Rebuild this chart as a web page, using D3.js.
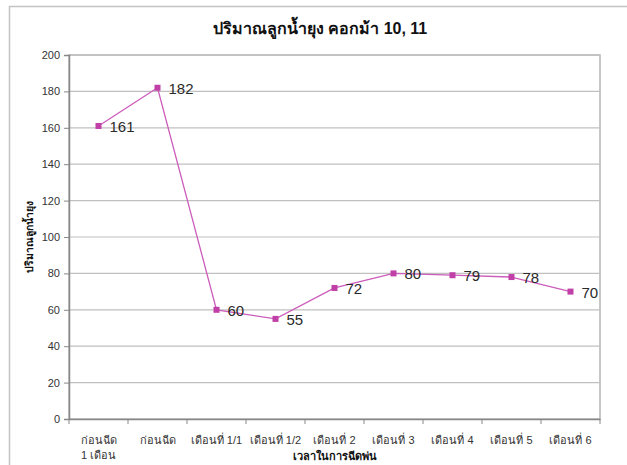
<!DOCTYPE html>
<html>
<head>
<meta charset="utf-8">
<script src="https://cdn.jsdelivr.net/npm/d3@7"></script>
<style>
  html, body { margin: 0; padding: 0; background: #fff; }
  svg { display: block; font-family: "Liberation Sans", Arial, "DejaVu Sans", sans-serif; }
</style>
</head>
<body>
<svg id="chart" width="627" height="465"></svg>
<script>
// Mosquito larvae count, stable pens 10 and 11
const categories = ["ก่อนฉีด\n1 เดือน", "ก่อนฉีด", "เดือนที่ 1/1", "เดือนที่ 1/2", "เดือนที่ 2", "เดือนที่ 3", "เดือนที่ 4", "เดือนที่ 5", "เดือนที่ 6"];
const larvae = [161, 182, 60, 55, 72, 80, 79, 78, 70];
const yTicks = [0, 20, 40, 60, 80, 100, 120, 140, 160, 180, 200];
const title = "ปริมาณลูกน้ำยุง คอกม้า 10, 11";
const yTitle = "ปริมาณลูกน้ำยุง";
const xTitle = "เวลาในการฉีดพ่น";

const svg = d3.select("#chart");
const plot = { left: 69, right: 600, top: 55, bottom: 419 };

// outer chart frame
svg.append("rect")
  .attr("x", 9.5).attr("y", 6.5).attr("width", 640).attr("height", 480)
  .attr("fill", "none").attr("stroke", "#c4c4c4").attr("stroke-width", 1.5);

const x = d3.scaleBand().domain(categories).range([plot.left, plot.right]).padding(0);
const y = d3.scaleLinear().domain([0, 200]).range([plot.bottom, plot.top]);

// plot area border
svg.append("rect")
  .attr("x", plot.left).attr("y", plot.top)
  .attr("width", plot.right - plot.left).attr("height", plot.bottom - plot.top)
  .attr("fill", "none").attr("stroke", "#b4b4b4").attr("stroke-width", 1.5);

// horizontal gridlines
svg.append("g").selectAll("line").data(yTicks.filter(d => d > 0)).join("line")
  .attr("x1", plot.left).attr("x2", plot.right)
  .attr("y1", d => y(d)).attr("y2", d => y(d))
  .attr("stroke", "#c0c0c0").attr("stroke-width", 1.2);

// y axis
const yAxis = svg.append("g").attr("transform", `translate(${plot.left},0)`)
  .call(d3.axisLeft(y).tickValues(yTicks).tickSize(5).tickPadding(4));
yAxis.select(".domain").attr("stroke", "#888").attr("stroke-width", 1.5);
yAxis.selectAll(".tick line").attr("stroke", "#888");
yAxis.selectAll(".tick text").attr("fill", "#333").style("font-size", "11px");

// x axis with ticks on category boundaries
const xAxis = svg.append("g").attr("transform", `translate(0,${plot.bottom})`)
  .call(d3.axisBottom(x).tickSize(0).tickFormat(""));
xAxis.select(".domain").attr("stroke", "#888").attr("stroke-width", 1.5);
xAxis.selectAll(".tick line").remove();
const bounds = categories.map(c => x(c)).concat([plot.right]);
xAxis.selectAll("line.bound").data(bounds).join("line").attr("class", "bound")
  .attr("x1", d => d).attr("x2", d => d).attr("y1", 0).attr("y2", 5)
  .attr("stroke", "#888");
xAxis.selectAll("text.cat").data(categories).join("text").attr("class", "cat")
  .attr("x", d => x(d) + x.bandwidth() / 2)
  .attr("y", 25)
  .attr("text-anchor", "middle")
  .attr("fill", "#333")
  .style("font-size", "11px")
  .each(function(d) {
    const lines = d.split("\n");
    d3.select(this).selectAll("tspan").data(lines).join("tspan")
      .attr("x", x(d) + x.bandwidth() / 2)
      .attr("dy", (l, i) => i === 0 ? 0 : 15)
      .text(l => l);
  });

// line and markers
const cx = (d, i) => x(categories[i]) + x.bandwidth() / 2;
svg.append("path").datum(larvae)
  .attr("fill", "none").attr("stroke", "#cc5cbb").attr("stroke-width", 1.3)
  .attr("d", d3.line().x(cx).y(d => y(d)));
svg.append("g").selectAll("rect").data(larvae).join("rect")
  .attr("x", (d, i) => cx(d, i) - 3).attr("y", d => y(d) - 3)
  .attr("width", 6).attr("height", 6).attr("fill", "#c040a8");

// value labels
svg.append("g").selectAll("text").data(larvae).join("text")
  .attr("x", (d, i) => cx(d, i) + 11)
  .attr("y", d => y(d) + 6)
  .attr("fill", "#2a2a2a")
  .style("font-size", "15px")
  .text(d => d);

// titles
svg.append("text").attr("x", 320).attr("y", 34).attr("text-anchor", "middle")
  .style("font-size", "16px").style("font-weight", "bold").attr("fill", "#111").text(title);
svg.append("text").attr("transform", "translate(33,237) rotate(-90)").attr("text-anchor", "middle")
  .style("font-size", "10.5px").style("font-weight", "bold").attr("fill", "#111").text(yTitle);
svg.append("text").attr("x", 335).attr("y", 460).attr("text-anchor", "middle")
  .style("font-size", "11px").style("font-weight", "bold").attr("fill", "#111").text(xTitle);
</script>
</body>
</html>
